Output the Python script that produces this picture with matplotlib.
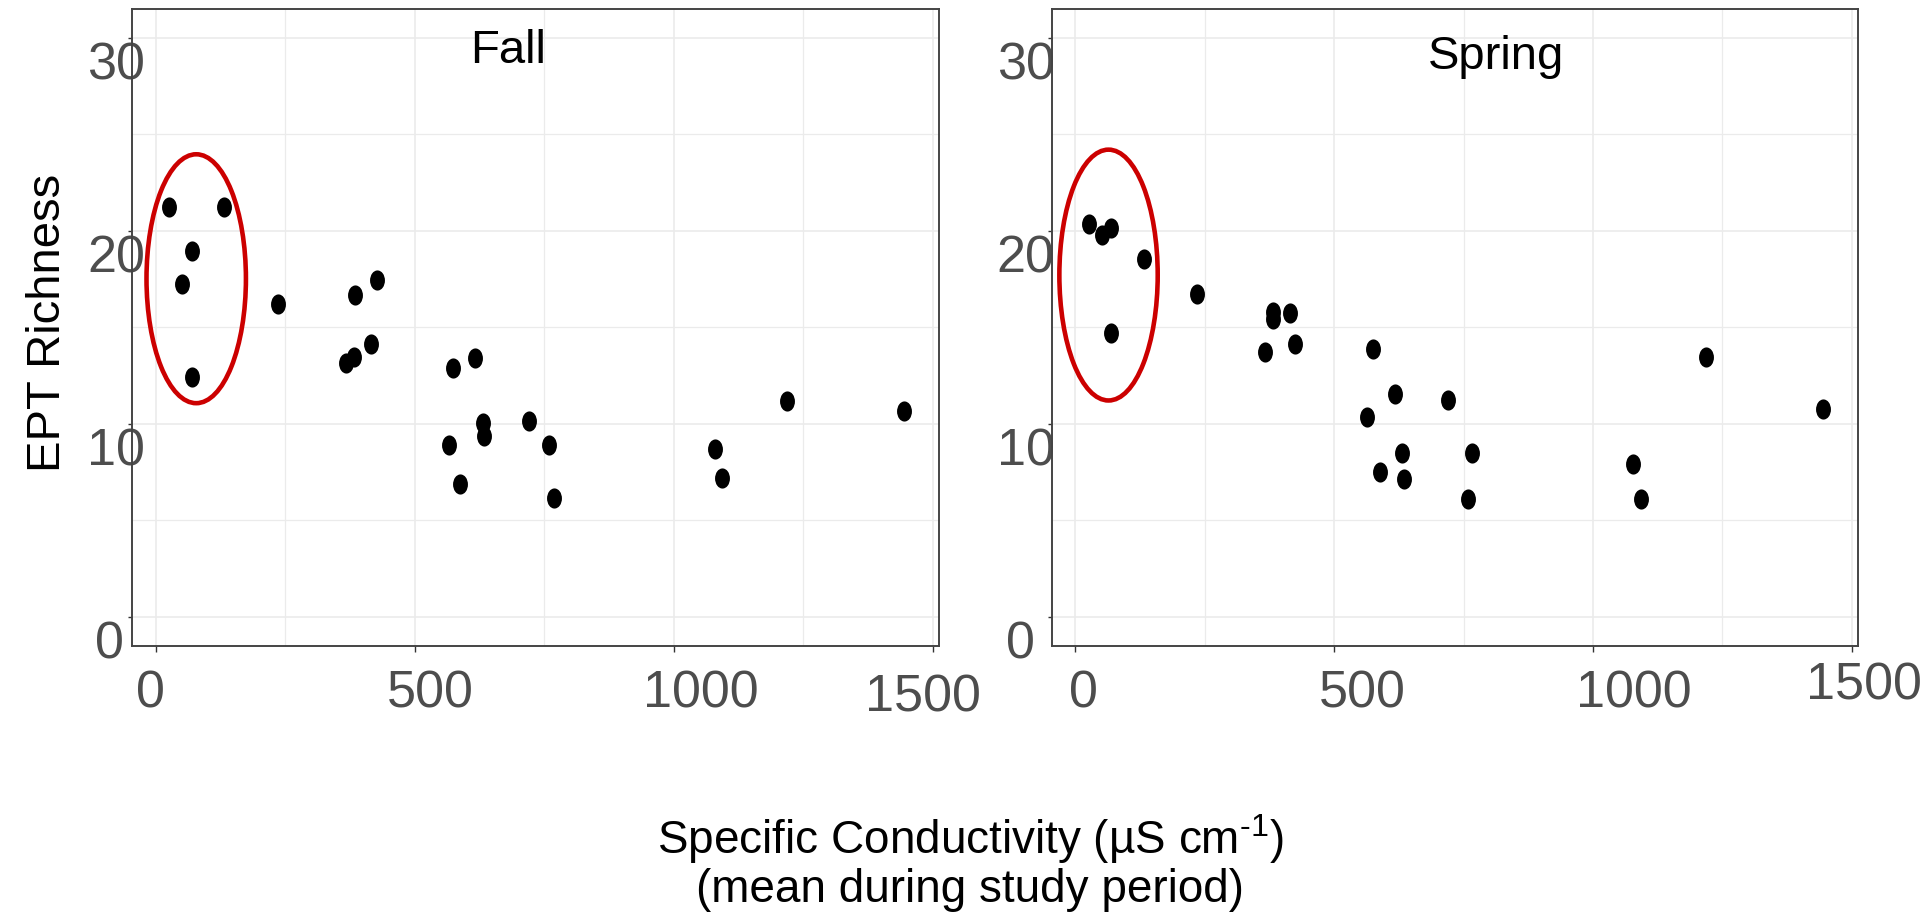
import matplotlib
matplotlib.use("Agg")
import matplotlib.pyplot as plt
import numpy as np
from matplotlib.patches import Ellipse
from matplotlib.path import Path
from matplotlib.transforms import Affine2D, ScaledTranslation

# ---------------- data ----------------
fall_cond = [26, 132, 69, 51, 69, 235, 384, 427, 415, 368, 382, 573, 616, 632, 633,
             720, 566, 759, 587, 768, 1079, 1094, 1218, 1444]
fall_ept = [21.26, 21.26, 18.96, 17.26, 12.45, 16.2, 16.67, 17.43, 14.16, 13.17, 13.44,
            12.91, 13.41, 10.05, 9.39, 10.16, 8.91, 8.91, 6.9, 6.18, 8.7, 7.21, 11.2, 10.66]

spring_cond = [26, 52, 69, 132, 69, 234, 382, 381, 415, 425, 367, 574, 617, 719, 564,
               631, 767, 588, 634, 758, 1078, 1093, 1218, 1444]
spring_ept = [20.38, 19.77, 20.17, 18.53, 14.70, 16.74, 15.80, 15.45, 15.75, 14.16, 13.70,
              13.90, 11.54, 11.23, 10.36, 8.48, 8.50, 7.52, 7.12, 6.12, 7.93, 6.12, 13.44, 10.75]

panel_names = ["Fall", "Spring"]
x_ticks = [0, 500, 1000, 1500]
x_minor = [250, 750, 1250]
y_ticks = [0, 10, 20, 30]
y_minor = [5, 15, 25]

# highlighted low-conductivity group (center x, center y, width, height)
fall_ellipse = (78, 17.52, 192, 12.9)
spring_ellipse = (64, 17.71, 190, 13.0)

x_title = "Specific Conductivity (µS cm$^{\u2010 1}$)"
x_title2 = "(mean during study period)"
y_title = "EPT Richness"

# ---------------- style ----------------
plt.rcParams["font.family"] = ["Liberation Sans", "DejaVu Sans"]
plt.rcParams["mathtext.default"] = "regular"

W, H, DPI = 1920, 917, 100
fig = plt.figure(figsize=(W / DPI, H / DPI), dpi=DPI)

def px_ax(x0, x1, y0, y1):
    return [x0 / W, 1 - y1 / H, (x1 - x0) / W, (y1 - y0) / H]

ax1 = fig.add_axes(px_ax(132, 938.8, 9, 645.7))
ax2 = fig.add_axes(px_ax(1051.6, 1858, 9, 645.7))

ell_marker = Affine2D().scale(0.74, 1.0).transform_path(Path.unit_circle())

grid_col = "#EBEBEB"
spine_col = "#444444"
tick_col = "#333333"
lab_col = "#4D4D4D"

def shift(label, dx_px, dy_px):
    label.set_transform(label.get_transform() +
                        ScaledTranslation(dx_px / DPI, dy_px / DPI, fig.dpi_scale_trans))

panels = [
    (ax1, fall_cond, fall_ept, fall_ellipse, panel_names[0], (681, 28.70), -12.6,
     [(-5.3, 0), (16, 0), (27, 0), (-9.5, -4.5)], -21),
    (ax2, spring_cond, spring_ept, spring_ellipse, panel_names[1], (813, 28.41), -5.4,
     [(7.6, 0), (28.5, 0), (41, 0), (12.6, 8)], -20),
]

for ax, xs, ys, ell, name, name_pos, ypad, xoffs, zero_dx in panels:
    ax.set_xlim(-46, 1512)
    ax.set_ylim(-1.5, 31.5)
    ax.set_xticks(x_ticks)
    ax.set_xticklabels([str(v) for v in x_ticks])
    ax.set_xticks(x_minor, minor=True)
    ax.set_yticks(y_ticks)
    ax.set_yticklabels([str(v) for v in y_ticks])
    ax.set_yticks(y_minor, minor=True)
    ax.set_axisbelow(True)
    ax.grid(which="major", color=grid_col, lw=1.2)
    ax.grid(which="minor", color=grid_col, lw=0.9)
    for sp in ax.spines.values():
        sp.set_color(spine_col)
        sp.set_linewidth(1.4)
    ax.tick_params(which="minor", length=0)
    ax.tick_params(axis="x", which="major", length=4.3, width=1, color=tick_col,
                   pad=12.5, labelsize=37.5, labelcolor=lab_col)
    ax.tick_params(axis="y", which="major", length=3.2, width=1, color=tick_col,
                   pad=ypad, labelsize=37.5, labelcolor=lab_col)

    ax.scatter(xs, ys, s=14.5 ** 2, marker=ell_marker, c="black", linewidths=0, zorder=3)
    cx, cy, ew, eh = ell
    ax.add_patch(Ellipse((cx, cy), ew, eh, fill=False, edgecolor="#CC0000", lw=3.3, zorder=4))
    ax.text(name_pos[0], name_pos[1], name, ha="center", va="baseline", fontsize=34, color="black")

    for lab, (dx, dy) in zip(ax.get_xticklabels(), xoffs):
        shift(lab, dx, dy)
    for lab in ax.get_yticklabels():
        dx = zero_dx if lab.get_text() == "0" else 0
        shift(lab, dx, -23)

fig.text(48 / W, 1 - 322.5 / H, y_title, rotation=90, ha="center", va="center",
         fontsize=34, color="black")
fig.text(970 / W, 1 - 853.5 / H, x_title, ha="center", va="baseline", fontsize=33, color="black")
fig.text(970 / W, 1 - 902.5 / H, x_title2, ha="center", va="baseline", fontsize=33, color="black")

fig.savefig("out.png", dpi=DPI)
